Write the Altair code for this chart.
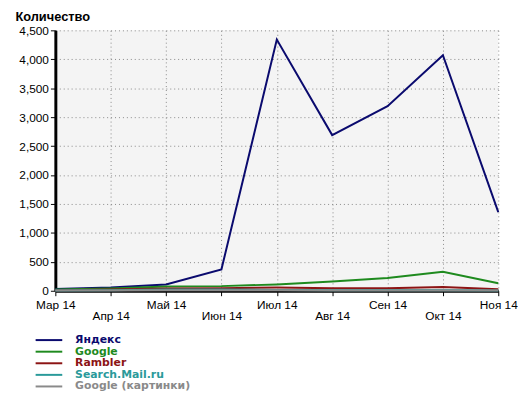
import altair as alt
import pandas as pd

months = ["Мар 14", "Апр 14", "Май 14", "Июн 14", "Июл 14", "Авг 14", "Сен 14", "Окт 14", "Ноя 14"]
series = ["Яндекс", "Google", "Rambler", "Search.Mail.ru", "Google (картинки)"]
colors = ["#0a0a6e", "#1e8a1e", "#8c1414", "#2a9a9a", "#8a8a8a"]

yandex = [30, 55, 110, 370, 4340, 2690, 3190, 4070, 1360]
google = [20, 40, 75, 80, 110, 160, 220, 330, 130]
rambler = [10, 20, 40, 45, 55, 45, 45, 65, 25]
mail = [5, 10, 20, 20, 15, 10, 10, 10, 5]
gimg = [3, 5, 10, 10, 10, 5, 5, 5, 3]

values = [yandex, google, rambler, mail, gimg]

rows = []
for si, name in enumerate(series):
    for mi, v in enumerate(values[si]):
        rows.append({"m": mi, "series": name, "order": si, "v": v})
df = pd.DataFrame(rows)

month_arr = "[" + ",".join("'" + m + "'" for m in months) + "]"
label_expr = f"datum.value % 2 == 1 ? ['', {month_arr}[datum.value]] : {month_arr}[datum.value]"

color_scale = alt.Scale(domain=series, range=colors)

main = alt.Chart(df).mark_line(strokeWidth=2).encode(
    x=alt.X("m:Q", scale=alt.Scale(domain=[0, 8], nice=False),
            axis=alt.Axis(values=list(range(9)), labelExpr=label_expr, title=None,
                          grid=True, gridDash=[1, 3], gridColor="#888",
                          domainColor="black", domainWidth=3, tickColor="black",
                          tickSize=5, labelFontSize=12, labelColor="black",
                          labelFont="Liberation Sans", labelLineHeight=11,
                          labelPadding=4, labelFlush=False)),
    y=alt.Y("v:Q", scale=alt.Scale(domain=[0, 4500], nice=False),
            axis=alt.Axis(values=list(range(0, 4501, 500)),
                          labelExpr="format(datum.value, ',')",
                          title="Количество", titleAngle=0, titleAlign="left",
                          titleBaseline="middle", titleX=-41, titleY=-14,
                          titleFont="Liberation Sans", titleFontSize=13,
                          titleFontWeight="bold", titleColor="black",
                          grid=True, gridDash=[1, 3], gridColor="#888",
                          domainColor="black", domainWidth=3, tickColor="black",
                          tickSize=5, labelFontSize=12, labelColor="black",
                          labelFont="Liberation Sans", labelPadding=2)),
    color=alt.Color("series:N", scale=color_scale, legend=None),
    order=alt.Order("order:Q", sort="descending"),
    detail="series:N",
).properties(width=449, height=264,
             view=alt.ViewBackground(fill="#f4f4f4", stroke=None))

leg_df = pd.DataFrame({"series": series, "i": list(range(5)),
                       "x0": [0] * 5, "x1": [27] * 5, "tx": [40] * 5})
leg_x = alt.Scale(domain=[20, 220], nice=False)
leg_base = alt.Chart(leg_df).encode(
    y=alt.Y("i:Q", scale=alt.Scale(domain=[0, 4], reverse=True, nice=False), axis=None),
)
leg_lines = leg_base.mark_rule(strokeWidth=2).encode(
    x=alt.X("x0:Q", scale=leg_x, axis=None),
    x2="x1:Q",
    color=alt.Color("series:N", scale=color_scale, legend=None),
)
leg_text = leg_base.mark_text(align="left", baseline="middle", font="DejaVu Sans",
                              fontSize=11, fontWeight="bold").encode(
    x=alt.X("tx:Q", scale=leg_x, axis=None),
    text="series:N",
    color=alt.Color("series:N", scale=color_scale, legend=None),
)
legend = (leg_lines + leg_text).properties(width=200, height=47)

chart = alt.vconcat(main, legend, spacing=13, background="white",
                    padding={"left": 7, "top": 0, "right": 0, "bottom": 0}).configure_view(stroke=None)

chart.save("out.html", embed_options={"renderer": "svg", "actions": False})
